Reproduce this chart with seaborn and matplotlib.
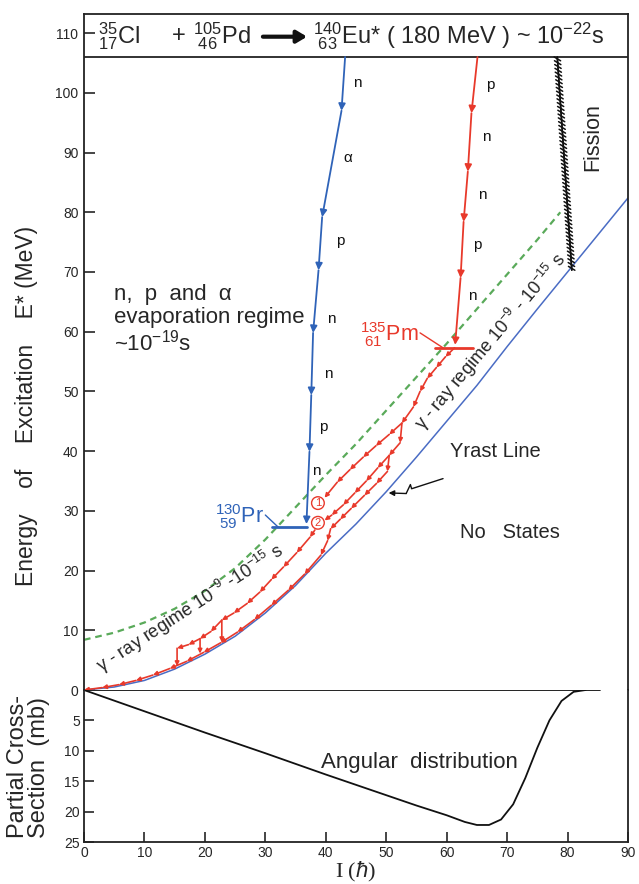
import matplotlib
matplotlib.use("Agg")
import matplotlib.pyplot as plt
import seaborn as sns
from matplotlib import patheffects as pe

# ---------------- data ----------------
yrast_I = [0, 5, 10, 15, 20, 25, 30, 35, 40, 45, 50, 55, 60, 65, 70, 75, 80, 85, 90]
yrast_E = [0, 0.5, 1.6, 3.5, 6.0, 9.0, 12.9, 17.5, 22.9, 27.8, 33.2, 39.0, 45.0, 51.0, 57.5, 63.8, 70.0, 76.2, 82.4]

green_I = [0, 5, 10, 15, 20, 25, 30, 35, 40, 45, 50, 55, 60, 65, 70, 75, 78.8]
green_E = [8.4, 9.6, 11.3, 13.6, 16.6, 20.4, 25.2, 30.6, 36.0, 41.2, 46.8, 52.4, 58.0, 63.8, 69.6, 75.4, 80.0]

# particle evaporation toward 130Pr (blue)
pr_I = [43.2, 42.6, 39.4, 38.8, 37.9, 37.6, 37.3, 36.8]
pr_E = [106.0, 97.0, 79.2, 70.3, 59.8, 49.4, 39.9, 27.8]
pr_lab = ["n", "α", "p", "n", "n", "p", "n"]
pr_lab_I = [45.2, 43.7, 42.4, 40.9, 40.4, 39.6, 38.4]
pr_lab_E = [101.7, 89.1, 75.2, 62.1, 52.9, 44.1, 36.7]

# particle evaporation toward 135Pm (red)
pm_I = [65.1, 64.1, 63.5, 62.8, 62.3, 61.4]
pm_E = [106.0, 96.6, 86.8, 78.4, 69.0, 57.8]
pm_lab = ["p", "n", "n", "p", "n"]
pm_lab_I = [67.2, 66.6, 65.9, 65.1, 64.2]
pm_lab_E = [101.3, 92.6, 82.9, 74.5, 66.0]

# gamma cascades (red)
gA_I = [61.3, 59.8, 58.3, 56.8, 55.6, 54.5, 52.6, 50.5, 48.3, 46.2, 44.0, 41.9, 39.8]
gA_E = [57.3, 55.8, 54.0, 52.2, 50.0, 47.4, 44.7, 42.8, 40.9, 39.0, 36.9, 34.8, 32.2]
gB_I = [52.6, 52.3, 50.5, 48.6, 46.7, 44.8, 42.9, 41.0, 39.8]
gB_E = [44.7, 41.4, 39.3, 37.2, 35.0, 33.0, 31.0, 29.3, 28.4]
gC_I = [50.5, 50.2, 48.4, 46.4, 44.2, 42.4, 40.8, 40.3, 39.2]
gC_E = [39.3, 36.6, 34.6, 32.6, 30.4, 28.6, 27.0, 25.0, 22.6]
gU_I = [38.2, 37.4, 35.2, 33.0, 31.0, 29.1, 27.0, 24.8, 22.8, 21.0, 19.2, 17.3, 15.4]
gU_E = [26.8, 25.6, 23.0, 20.6, 18.5, 16.4, 14.5, 12.9, 11.7, 9.8, 8.6, 7.6, 7.0]
gY_I = [39.2, 36.5, 33.8, 31.0, 28.2, 25.4, 22.6, 19.8, 17.0, 14.2, 11.4, 8.6, 5.8, 3.0, 0.0]
gY_E = [22.6, 19.4, 16.7, 14.2, 11.8, 9.7, 7.9, 6.3, 4.8, 3.6, 2.5, 1.6, 0.9, 0.4, 0.0]
conn_I = [15.4, 19.2, 22.8]
conn_top = [7.0, 8.6, 11.7]
conn_bot = [4.0, 6.1, 8.0]

fission_I = [78.3, 80.7]
fission_E = [106.0, 70.3]

# angular distribution (partial cross-section, mb)
ang_I = [0, 10, 20, 30, 40, 50, 55, 60, 63, 65, 67, 69, 71, 73, 75, 77, 79, 81, 83]
ang_S = [0, 3.5, 7.0, 10.4, 13.9, 17.3, 19.0, 20.6, 21.7, 22.2, 22.2, 21.3, 18.8, 14.5, 9.5, 5.0, 1.8, 0.3, 0]

e_ticks = [0, 10, 20, 30, 40, 50, 60, 70, 80, 90, 100, 110]
s_ticks = [5, 10, 15, 20, 25]
i_ticks = [0, 10, 20, 30, 40, 50, 60, 70, 80, 90]

# ---------------- style ----------------
sns.set_theme(style="ticks")
plt.rcParams['font.family'] = ['Liberation Sans', 'DejaVu Sans']
plt.rcParams['mathtext.fontset'] = 'custom'
plt.rcParams['mathtext.rm'] = 'Liberation Sans'
plt.rcParams['mathtext.it'] = 'Liberation Sans:italic'
plt.rcParams['mathtext.bf'] = 'Liberation Sans:bold'

BLUE = '#2f63b8'
YBLUE = '#4a6cc4'
RED = '#e8392b'
GREEN = '#5aaa5a'

fig = plt.figure(figsize=(6.39, 8.84), dpi=100)
ax = fig.add_axes([84/639, 194/884, 544/639, 676/884])
axb = fig.add_axes([84/639, 42/884, 544/639, 152/884])

for a in (ax, axb):
    a.set_xlim(0, 90)
    for s in a.spines.values():
        s.set_linewidth(1.3)
        s.set_color('#222222')
ax.set_ylim(0, 113.2)
axb.set_ylim(25, 0)
ax.spines['bottom'].set_visible(False)
axb.spines['top'].set_visible(False)

ax.set_xticks([])
ax.set_yticks(e_ticks)
ax.tick_params(axis='y', direction='in', length=8, width=1.2, labelsize=10, pad=4)
axb.set_yticks(s_ticks)
axb.set_xticks(i_ticks)
axb.tick_params(axis='both', direction='in', length=7, width=1.2, labelsize=10, pad=3)

# ---------------- curves ----------------
sns.lineplot(x=yrast_I, y=yrast_E, ax=ax, color=YBLUE, lw=1.1, sort=False, estimator=None)
sns.lineplot(x=green_I, y=green_E, ax=ax, color=GREEN, lw=1.6, sort=False, estimator=None,
             dashes=False, linestyle=(0, (3, 2.2)))

# title box line
ax.axhline(106, color='#222222', lw=1.3)

def arrow_path(xs, ys, color, lw, ms):
    for i in range(len(xs) - 1):
        ax.annotate("", xy=(xs[i + 1], ys[i + 1]), xytext=(xs[i], ys[i]),
                    arrowprops=dict(arrowstyle="-|>", color=color, lw=lw,
                                    mutation_scale=ms, shrinkA=0, shrinkB=0))

arrow_path(pr_I, pr_E, BLUE, 1.3, 10)
arrow_path(pm_I, pm_E, RED, 1.3, 10)
for xs, ys in [(gA_I, gA_E), (gB_I, gB_E), (gC_I, gC_E), (gU_I, gU_E), (gY_I, gY_E)]:
    arrow_path(xs, ys, RED, 1.2, 6)
for xi, t, b in zip(conn_I, conn_top, conn_bot):
    arrow_path([xi, xi], [t, b], RED, 1.2, 6)

# entry lines
ax.plot([31.1, 36.9], [27.3, 27.3], color=BLUE, lw=2.0)
ax.plot([58.1, 64.4], [57.3, 57.3], color=RED, lw=2.0)
ax.plot([30.0, 32.1], [29.3, 27.3], color=BLUE, lw=1.0)
ax.plot([55.6, 59.4], [59.8, 57.3], color=RED, lw=1.0)

for t, x, y in zip(pr_lab, pr_lab_I, pr_lab_E):
    ax.text(x, y, t, ha='center', va='center', fontsize=11, color='#111111')
for t, x, y in zip(pm_lab, pm_lab_I, pm_lab_E):
    ax.text(x, y, t, ha='center', va='center', fontsize=11, color='#111111')

ax.text(29.8, 29.0, r"${}^{130}_{\ 59}$Pr", ha='right', va='center', fontsize=15.5, color=BLUE)
ax.text(55.4, 59.6, r"${}^{135}_{\ 61}$Pm", ha='right', va='center', fontsize=15.5, color=RED)

for lab, x, y in [("1", 38.7, 31.3), ("2", 38.7, 28.0)]:
    ax.text(x, y, lab, ha='center', va='center', fontsize=8, color=RED,
            bbox=dict(boxstyle='circle,pad=0.12', fc='white', ec=RED, lw=1.0))

# fission
ax.plot(fission_I, fission_E, color='#111111', lw=1.1,
        path_effects=[pe.withTickedStroke(angle=55, spacing=2.7, length=1.0),
                      pe.withTickedStroke(angle=-125, spacing=2.7, length=1.0)])
ax.text(84.2, 92.6, "Fission", rotation=90, ha='center', va='center', fontsize=15.5)

# yrast pointer
ax.plot([59.4, 54.2, 54.0, 53.3], [35.4, 33.7, 34.4, 32.9], color='#111111', lw=1.0)
ax.annotate("", xy=(50.4, 33.0), xytext=(53.3, 32.9),
            arrowprops=dict(arrowstyle="-|>", color='#111111', lw=1.0, mutation_scale=8,
                            shrinkA=0, shrinkB=0))

# texts
ax.text(5.0, 62.0, "n,  p  and  α\nevaporation regime\n~10$^{-19}$s", ha='left', va='center',
        fontsize=16, linespacing=1.12)
ax.text(17.6, 13.6, r"γ - ray regime 10$^{-9}$ -10$^{-15}$ s", rotation=33, ha='center',
        va='center', fontsize=13, rotation_mode='anchor')
ax.text(67.2, 58.3, r"γ - ray regime 10$^{-9}$ - 10$^{-15}$ s", rotation=50, ha='center',
        va='center', fontsize=13, rotation_mode='anchor')
ax.text(68.0, 39.9, "Yrast Line", ha='center', va='center', fontsize=14.5)
ax.text(70.5, 26.3, "No   States", ha='center', va='center', fontsize=14.5)

# title row
ax.text(2.3, 109.5, r"${}^{35}_{17}$Cl", ha='left', va='center', fontsize=17)
ax.text(15.6, 109.5, "+", ha='center', va='center', fontsize=17)
ax.text(18.0, 109.5, r"${}^{105}_{\ 46}$Pd", ha='left', va='center', fontsize=17)
ax.annotate("", xy=(36.9, 109.4), xytext=(29.6, 109.4),
            arrowprops=dict(arrowstyle="-|>,head_length=0.5,head_width=0.3", color='#111111',
                            lw=3.0, mutation_scale=12, shrinkA=0, shrinkB=0))
ax.text(37.9, 109.5, r"${}^{140}_{\ 63}$Eu* ( 180 MeV ) ~ 10$^{-22}$s", ha='left',
        va='center', fontsize=17)

ax.set_ylabel("Energy    of    Excitation    E* (MeV)", fontsize=16.5, labelpad=4)
ax.yaxis.set_label_coords(-0.085, 0.42)

# ---------------- lower panel ----------------
axb.plot([0, 85.4], [0, 0], color='#111111', lw=1.3)
sns.lineplot(x=ang_I, y=ang_S, ax=axb, color='#111111', lw=1.3, sort=False, estimator=None)
axb.text(55.5, 12.0, "Angular  distribution", ha='center', va='center', fontsize=16)
axb.set_ylabel("Partial Cross-\nSection  (mb)", fontsize=17, labelpad=2, linespacing=0.95,
               multialignment='left')
axb.set_xlabel(r"I ($\hbar$)", fontsize=16, labelpad=0, family=['Liberation Serif', 'DejaVu Serif'])
axb.yaxis.set_label_coords(-0.062, 0.5)

fig.savefig("out.png", dpi=100)
